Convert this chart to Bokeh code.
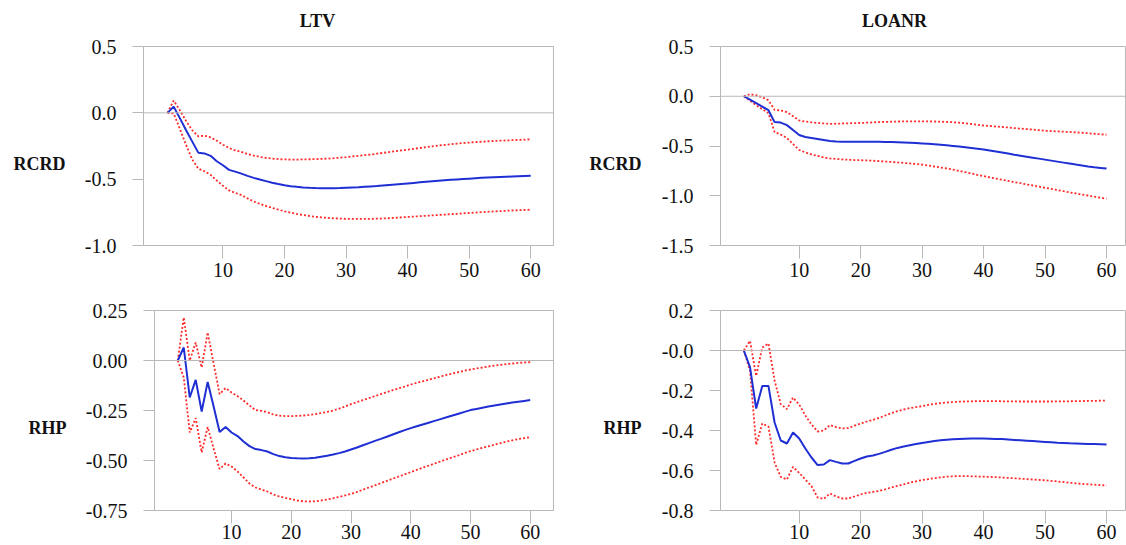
from bokeh.plotting import figure
from bokeh.models import Range1d, FixedTicker, Span, Label
from bokeh.layouts import column, row
from bokeh.embed import file_html
from bokeh.resources import INLINE

# ---------------- data ----------------
periods = list(range(1, 61))

col_titles = ["LTV", "LOANR"]
row_titles = ["RCRD", "RHP"]

# LTV -> RCRD
ltv_rcrd_mid = [0.0, 0.047, -0.04, -0.13, -0.215, -0.30, -0.306, -0.324, -0.365, -0.395,
                -0.43, -0.443, -0.458, -0.475, -0.49, -0.503, -0.515, -0.527, -0.537, -0.546,
                -0.553, -0.558, -0.562, -0.565, -0.567, -0.568, -0.568, -0.568, -0.567, -0.565,
                -0.563, -0.561, -0.558, -0.555, -0.552, -0.548, -0.544, -0.540, -0.536, -0.532,
                -0.528, -0.524, -0.520, -0.516, -0.512, -0.508, -0.505, -0.502, -0.499, -0.496,
                -0.493, -0.490, -0.488, -0.486, -0.484, -0.482, -0.480, -0.478, -0.476, -0.474]
ltv_rcrd_up = [0.0, 0.092, 0.02, -0.06, -0.13, -0.177, -0.172, -0.185, -0.21, -0.24,
               -0.265, -0.283, -0.295, -0.31, -0.322, -0.332, -0.34, -0.345, -0.349, -0.351,
               -0.352, -0.352, -0.351, -0.35, -0.349, -0.347, -0.345, -0.342, -0.338, -0.334,
               -0.329, -0.324, -0.319, -0.314, -0.308, -0.302, -0.296, -0.289, -0.283, -0.277,
               -0.271, -0.265, -0.259, -0.253, -0.247, -0.242, -0.237, -0.232, -0.228, -0.224,
               -0.221, -0.218, -0.215, -0.212, -0.21, -0.208, -0.206, -0.204, -0.202, -0.20]
ltv_rcrd_lo = [0.0, -0.005, -0.12, -0.24, -0.35, -0.42, -0.44, -0.468, -0.51, -0.55,
               -0.585, -0.603, -0.62, -0.645, -0.668, -0.686, -0.702, -0.716, -0.73, -0.742,
               -0.752, -0.762, -0.77, -0.777, -0.783, -0.788, -0.792, -0.795, -0.797, -0.799,
               -0.80, -0.80, -0.80, -0.799, -0.798, -0.796, -0.794, -0.791, -0.788, -0.785,
               -0.782, -0.779, -0.776, -0.773, -0.77, -0.767, -0.764, -0.761, -0.758, -0.755,
               -0.752, -0.749, -0.746, -0.743, -0.741, -0.738, -0.736, -0.734, -0.732, -0.73]

# LOANR -> RCRD
loanr_rcrd_mid = [0.0, -0.035, -0.07, -0.105, -0.14, -0.26, -0.265, -0.29, -0.34, -0.39,
                  -0.41, -0.42, -0.43, -0.44, -0.45, -0.455, -0.457, -0.458, -0.458, -0.458,
                  -0.458, -0.458, -0.458, -0.459, -0.46, -0.462, -0.464, -0.467, -0.47, -0.474,
                  -0.478, -0.483, -0.488, -0.493, -0.499, -0.506, -0.513, -0.52, -0.528, -0.536,
                  -0.546, -0.556, -0.566, -0.576, -0.587, -0.597, -0.607, -0.617, -0.627, -0.637,
                  -0.647, -0.657, -0.667, -0.677, -0.687, -0.696, -0.705, -0.713, -0.72, -0.727]
loanr_rcrd_up = [0.0, 0.02, 0.01, -0.01, -0.04, -0.137, -0.142, -0.16, -0.2, -0.243,
                 -0.255, -0.262, -0.268, -0.273, -0.277, -0.276, -0.274, -0.272, -0.27, -0.268,
                 -0.266, -0.263, -0.26, -0.258, -0.256, -0.254, -0.253, -0.252, -0.252, -0.252,
                 -0.253, -0.254, -0.256, -0.258, -0.261, -0.266, -0.272, -0.279, -0.286, -0.294,
                 -0.299, -0.304, -0.309, -0.314, -0.32, -0.325, -0.33, -0.335, -0.341, -0.347,
                 -0.35, -0.353, -0.356, -0.359, -0.363, -0.367, -0.372, -0.377, -0.382, -0.387]
loanr_rcrd_lo = [0.0, -0.045, -0.09, -0.13, -0.17, -0.36, -0.385, -0.42, -0.48, -0.54,
                 -0.565, -0.585, -0.6, -0.615, -0.625, -0.63, -0.635, -0.638, -0.641, -0.643,
                 -0.645, -0.648, -0.652, -0.656, -0.66, -0.665, -0.67, -0.675, -0.681, -0.687,
                 -0.696, -0.706, -0.716, -0.726, -0.737, -0.75, -0.763, -0.776, -0.79, -0.803,
                 -0.815, -0.827, -0.839, -0.851, -0.863, -0.874, -0.886, -0.897, -0.909, -0.92,
                 -0.931, -0.943, -0.954, -0.966, -0.977, -0.988, -0.998, -1.009, -1.019, -1.03]

# LTV -> RHP
ltv_rhp_mid = [0.0, 0.065, -0.185, -0.097, -0.255, -0.107, -0.23, -0.357, -0.332, -0.36,
               -0.378, -0.405, -0.428, -0.443, -0.448, -0.455, -0.468, -0.478, -0.484, -0.487,
               -0.489, -0.49, -0.489, -0.486, -0.481, -0.476, -0.47, -0.463, -0.455, -0.445,
               -0.435, -0.424, -0.413, -0.402, -0.392, -0.381, -0.37, -0.359, -0.348, -0.338,
               -0.329, -0.32, -0.311, -0.302, -0.293, -0.284, -0.275, -0.266, -0.257, -0.248,
               -0.242, -0.236, -0.23, -0.225, -0.22, -0.215, -0.21, -0.206, -0.202, -0.198]
ltv_rhp_up = [0.0, 0.215, 0.0, 0.09, -0.035, 0.14, -0.015, -0.168, -0.138, -0.16,
              -0.178, -0.2, -0.225, -0.248, -0.252, -0.258, -0.27, -0.276, -0.278, -0.278,
              -0.277, -0.275, -0.272, -0.268, -0.263, -0.257, -0.25, -0.241, -0.23, -0.218,
              -0.208, -0.198, -0.188, -0.178, -0.168, -0.158, -0.148, -0.139, -0.13, -0.12,
              -0.112, -0.104, -0.096, -0.088, -0.08, -0.072, -0.065, -0.058, -0.051, -0.045,
              -0.04, -0.035, -0.03, -0.026, -0.022, -0.018, -0.015, -0.012, -0.01, -0.008]
ltv_rhp_lo = [0.0, -0.085, -0.36, -0.288, -0.46, -0.333, -0.44, -0.543, -0.515, -0.53,
              -0.555, -0.585, -0.615, -0.635, -0.645, -0.655, -0.67, -0.68, -0.687, -0.693,
              -0.7, -0.704, -0.705, -0.704, -0.7, -0.695, -0.689, -0.682, -0.675, -0.667,
              -0.657, -0.646, -0.635, -0.624, -0.613, -0.602, -0.591, -0.58, -0.569, -0.558,
              -0.547, -0.536, -0.526, -0.515, -0.505, -0.494, -0.484, -0.474, -0.463, -0.453,
              -0.445, -0.437, -0.429, -0.421, -0.413, -0.406, -0.399, -0.393, -0.388, -0.383]

# LOANR -> RHP
loanr_rhp_mid = [0.0, -0.083, -0.29, -0.177, -0.177, -0.36, -0.45, -0.465, -0.41, -0.44,
                 -0.49, -0.535, -0.573, -0.57, -0.548, -0.557, -0.565, -0.565, -0.552, -0.54,
                 -0.53, -0.525, -0.517, -0.507, -0.496, -0.487, -0.48, -0.474, -0.468, -0.462,
                 -0.457, -0.453, -0.449, -0.446, -0.444, -0.442, -0.441, -0.44, -0.44, -0.44,
                 -0.441, -0.442, -0.443, -0.445, -0.447, -0.449, -0.451, -0.453, -0.455, -0.457,
                 -0.459, -0.461, -0.462, -0.464, -0.465, -0.466, -0.467, -0.468, -0.469, -0.47]
loanr_rhp_up = [0.0, 0.048, -0.127, 0.015, 0.035, -0.15, -0.268, -0.293, -0.235, -0.27,
                -0.325, -0.37, -0.405, -0.4, -0.373, -0.383, -0.39, -0.388, -0.376, -0.365,
                -0.355, -0.347, -0.337, -0.325, -0.313, -0.303, -0.295, -0.288, -0.283, -0.278,
                -0.272, -0.267, -0.263, -0.26, -0.258, -0.256, -0.255, -0.254, -0.253, -0.253,
                -0.253, -0.253, -0.254, -0.254, -0.254, -0.255, -0.255, -0.255, -0.255, -0.255,
                -0.255, -0.254, -0.254, -0.254, -0.253, -0.253, -0.252, -0.252, -0.251, -0.25]
loanr_rhp_lo = [0.0, -0.1, -0.472, -0.365, -0.38, -0.56, -0.632, -0.645, -0.582, -0.612,
                -0.645, -0.678, -0.735, -0.742, -0.715, -0.73, -0.74, -0.74, -0.73, -0.72,
                -0.712, -0.707, -0.702, -0.694, -0.685, -0.677, -0.669, -0.661, -0.654, -0.648,
                -0.643, -0.638, -0.634, -0.631, -0.629, -0.628, -0.628, -0.629, -0.63, -0.631,
                -0.632, -0.633, -0.635, -0.637, -0.639, -0.641, -0.643, -0.645, -0.647, -0.649,
                -0.652, -0.655, -0.658, -0.661, -0.664, -0.667, -0.669, -0.671, -0.673, -0.675]

x_ticks = [10, 20, 30, 40, 50, 60]

ltv_rcrd_yticks = [-1.0, -0.5, 0.0, 0.5]
ltv_rcrd_ylabels = ["-1.0", "-0.5", "0.0", "0.5"]
loanr_rcrd_yticks = [-1.5, -1.0, -0.5, 0.0, 0.5]
loanr_rcrd_ylabels = ["-1.5", "-1.0", "-0.5", "0.0", "0.5"]
ltv_rhp_yticks = [-0.75, -0.5, -0.25, 0.0, 0.25]
ltv_rhp_ylabels = ["-0.75", "-0.50", "-0.25", "0.00", "0.25"]
loanr_rhp_yticks = [-0.8, -0.6, -0.4, -0.2, 0.0, 0.2]
loanr_rhp_ylabels = ["-0.8", "-0.6", "-0.4", "-0.2", "-0.0", "0.2"]

# ---------------- styling ----------------
FONT = "Liberation Serif"
BLUE = "#1f2fd4"
RED = "#ff2a2a"
GRAY = "#b8b8b8"
INK = "#111111"


def header(text, x, y, dx, dy, align):
    """Bold header text anchored at a frame corner and shifted in pixels."""
    return Label(x=x, y=y, x_offset=dx, y_offset=dy, text=text,
                 text_align=align, text_baseline="middle",
                 text_font=FONT, text_font_style="bold", text_font_size="18px",
                 text_color=INK)


def panel(mid, up, lo, yticks, ylabels, xr, width, height, mbl, mbr, mbt, mbb, xstand,
          row_label, row_dx, row_dy, title=None, title_dx=0, title_dy=0):
    y0, y1 = min(yticks), max(yticks)
    p = figure(width=width, height=height, output_backend="svg", toolbar_location=None,
               x_range=Range1d(*xr), y_range=Range1d(y0, y1),
               min_border_left=mbl, min_border_right=mbr,
               min_border_top=mbt, min_border_bottom=mbb)
    p.background_fill_color = "white"
    p.border_fill_color = "white"
    p.outline_line_color = GRAY
    p.outline_line_width = 1
    p.xgrid.visible = False
    p.ygrid.visible = False

    p.axis.axis_line_color = None
    p.axis.major_tick_line_color = GRAY
    p.axis.major_tick_in = 0
    p.axis.minor_tick_line_color = None
    p.axis.major_label_text_font = FONT
    p.axis.major_label_text_font_size = "20px"
    p.axis.major_label_text_color = INK

    p.xaxis.ticker = FixedTicker(ticks=x_ticks)
    p.xaxis.major_tick_out = 13
    p.xaxis.major_label_standoff = xstand
    p.yaxis.ticker = FixedTicker(ticks=yticks)
    p.yaxis.major_tick_out = 11
    p.yaxis.major_label_standoff = 16
    p.yaxis.major_label_overrides = {float(t): s for t, s in zip(yticks, ylabels)}

    p.add_layout(Span(location=0, dimension="width", line_color=GRAY, line_width=1))

    p.line(periods, up, line_color=RED, line_width=1.8, line_dash="2 2")
    p.line(periods, lo, line_color=RED, line_width=1.8, line_dash="2 2")
    p.line(periods, mid, line_color=BLUE, line_width=2)

    # headers live in side panels so that they are not clipped to the frame
    p.add_layout(header(row_label, xr[0], y0, row_dx, row_dy, "right"), "left")
    if title is not None:
        p.add_layout(header(title, xr[0], y1, title_dx, title_dy, "center"), "above")
    return p


p1 = panel(ltv_rcrd_mid, ltv_rcrd_up, ltv_rcrd_lo, ltv_rcrd_yticks, ltv_rcrd_ylabels,
           (-2.9, 63.7), 563, 283, 143, 10, 46, 38, 4, row_titles[0], -78, 82,
           title=col_titles[0], title_dx=174, title_dy=26)
p2 = panel(loanr_rcrd_mid, loanr_rcrd_up, loanr_rcrd_lo, loanr_rcrd_yticks, loanr_rcrd_ylabels,
           (-2.8, 63.25), 563, 283, 157, 0, 46, 38, 4, row_titles[0], -79, 82,
           title=col_titles[1], title_dx=174, title_dy=26)
p3 = panel(ltv_rhp_mid, ltv_rhp_up, ltv_rhp_lo, ltv_rhp_yticks, ltv_rhp_ylabels,
           (-2.9, 63.9), 563, 262, 154, 10, 27, 35, 1, row_titles[1], -88, 83)
p4 = panel(loanr_rhp_mid, loanr_rhp_up, loanr_rhp_lo, loanr_rhp_yticks, loanr_rhp_ylabels,
           (-2.8, 63.25), 563, 262, 157, 0, 27, 35, 1, row_titles[1], -79, 83)

layout = column(row(p1, p2), row(p3, p4))

with open("out.html", "w") as f:
    f.write(file_html(layout, INLINE))
